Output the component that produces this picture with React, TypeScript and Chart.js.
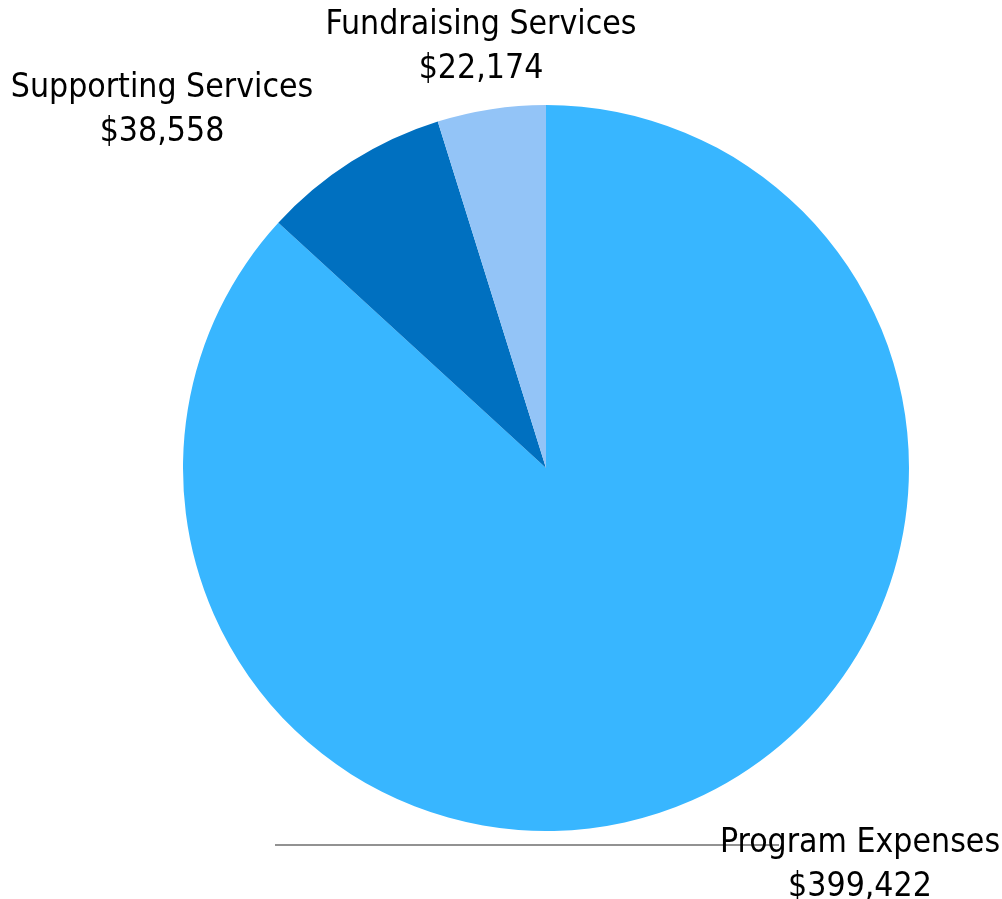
import React, { useEffect, useRef } from "react";
import { Chart, registerables } from "chart.js";

Chart.register(...registerables);

const categories = ["Program Expenses", "Supporting Services", "Fundraising Services"];
const values = [399422, 38558, 22174];
const valueLabels = ["$399,422", "$38,558", "$22,174"];
const colors = ["#38B6FF", "#0070C0", "#93C4F7"];
// label anchor centres (x, y of first line baseline) in canvas pixels
const labelAnchors = [
  [860, 852],
  [162, 97],
  [481, 34],
];

const FONT = "'Liberation Sans Narrow', 'DejaVu Sans Condensed', 'Roboto', sans-serif";

const labelPlugin = {
  id: "customLabels",
  afterDraw(chart: any) {
    const ctx = chart.ctx;
    ctx.save();
    // leader line under the program label
    ctx.strokeStyle = "#6e6e6e";
    ctx.lineWidth = 1.6;
    ctx.beginPath();
    ctx.moveTo(275, 845);
    ctx.lineTo(779, 845);
    ctx.stroke();
    ctx.fillStyle = "#000";
    ctx.font = `33.5px ${FONT}`;
    ctx.textAlign = "center";
    ctx.textBaseline = "alphabetic";
    categories.forEach((c, i) => {
      const [x, y] = labelAnchors[i];
      ctx.fillText(c, x, y);
      ctx.fillText(valueLabels[i], x, y + 44);
    });
    ctx.restore();
  },
};

export default function App() {
  const ref = useRef<HTMLCanvasElement>(null);
  useEffect(() => {
    const chart = new Chart(ref.current!, {
      type: "pie",
      data: {
        labels: categories,
        datasets: [
          {
            data: values,
            backgroundColor: colors,
            borderWidth: 0,
          },
        ],
      },
      options: {
        animation: false,
        responsive: false,
        layout: { padding: { left: 183, right: 93, top: 105, bottom: 68 } },
        plugins: { legend: { display: false }, tooltip: { enabled: false } },
      },
      plugins: [labelPlugin],
    });
    return () => chart.destroy();
  }, []);
  return (
    <div style={{ position: "fixed", left: 0, top: 0, width: 1002, height: 899, background: "#fff" }}>
      <canvas ref={ref} width={1002} height={899} style={{ width: 1002, height: 899 }} />
    </div>
  );
}
